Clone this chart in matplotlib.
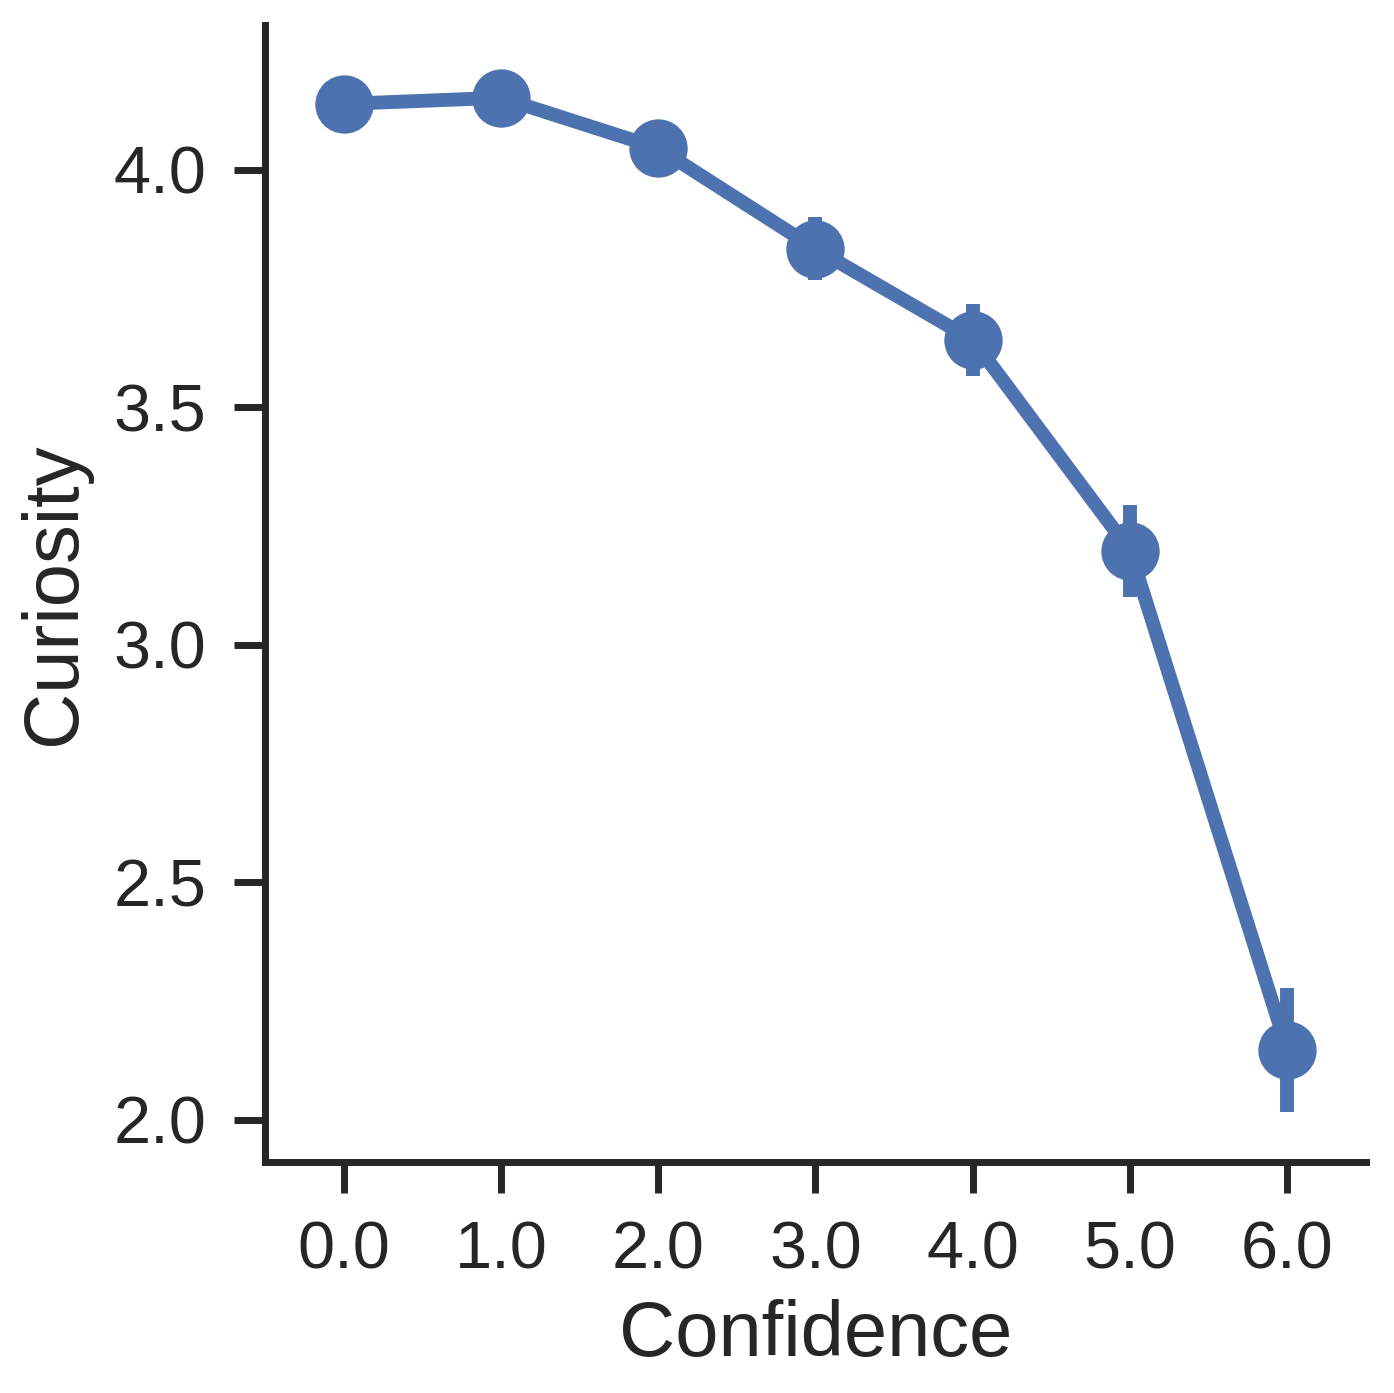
import matplotlib
matplotlib.use("Agg")
import matplotlib.pyplot as plt

confidence = [0.0, 1.0, 2.0, 3.0, 4.0, 5.0, 6.0]
curiosity = [4.139, 4.152, 4.046, 3.834, 3.642, 3.198, 2.147]
ci_half = [0.05, 0.02, 0.05, 0.066, 0.076, 0.097, 0.13]
tick_labels = ["0.0", "1.0", "2.0", "3.0", "4.0", "5.0", "6.0"]

plt.rcParams['font.family'] = ['Liberation Sans', 'DejaVu Sans']
color = "#4c72b0"
tc = "#262626"
fig = plt.figure(figsize=(6.97, 6.965), dpi=200)
ax = fig.add_axes([0.19, 0.166, 0.79, 0.816])
pos = list(range(len(confidence)))
ax.plot(pos, curiosity, color=color, lw=5, marker='o', ms=20, zorder=3)
ax.vlines(pos, [c - e for c, e in zip(curiosity, ci_half)],
          [c + e for c, e in zip(curiosity, ci_half)], color=color, lw=5, zorder=2)
ax.set_xlim(-0.5, 6.5)
ax.set_ylim(1.912, 4.305)
ax.set_xticks(pos)
ax.set_xticklabels(tick_labels)
ax.set_yticks([2.0, 2.5, 3.0, 3.5, 4.0])
ax.tick_params(labelsize=24, length=11, width=2.5, colors=tc, pad=10)
for s in ['top', 'right']:
    ax.spines[s].set_visible(False)
for s in ['left', 'bottom']:
    ax.spines[s].set_linewidth(2.5)
    ax.spines[s].set_color(tc)
ax.set_xlabel("Confidence", fontsize=28, color=tc, labelpad=6)
ax.set_ylabel("Curiosity", fontsize=28, color=tc, labelpad=8)
fig.savefig("out.png", dpi=200)
